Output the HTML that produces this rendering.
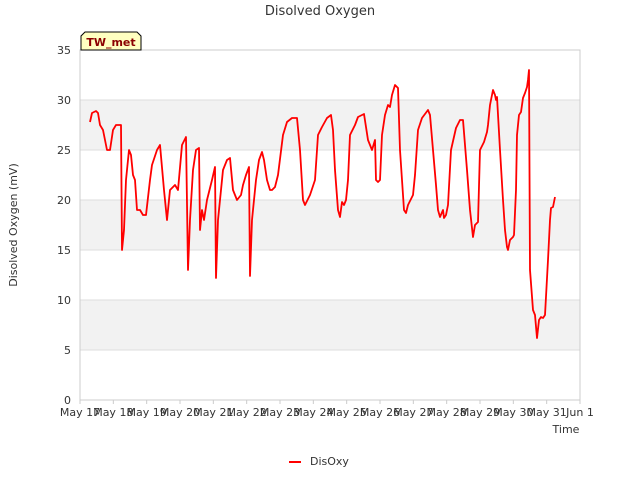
<!DOCTYPE html>
<html><head><meta charset="utf-8"><style>
body{margin:0;background:#fff;font-family:"DejaVu Sans","Liberation Sans",sans-serif;}
svg text{font-family:"DejaVu Sans","Liberation Sans",sans-serif;}
</style></head><body>
<svg id="chart" width="640" height="480">
<text x="320" y="15" text-anchor="middle" font-size="13" fill="#333">Disolved Oxygen</text>
<g id="bands"></g><g id="grid"></g>
<rect x="80" y="50" width="500" height="350" fill="none" stroke="#ccc"/>
<g id="yticks"></g><g id="xticks"></g>
<path id="line" fill="none" stroke="#ff0000" stroke-width="1.8" stroke-linejoin="round"/>
<text transform="translate(17,225) rotate(-90)" text-anchor="middle" font-size="11" fill="#333">Disolved Oxygen (mV)</text>
<text x="566" y="433" text-anchor="middle" font-size="11" fill="#333">Time</text>
<g>
<path d="M81,50 L81,36 L85,32 L137,32 L141,36 L141,50 Z" fill="#ffffc0" stroke="#000"/>
<text x="111" y="46" text-anchor="middle" font-size="11" font-weight="bold" fill="#8b0000">TW_met</text></g>
<g>
<line x1="289" y1="462" x2="301" y2="462" stroke="#ff0000" stroke-width="2"/>
<text x="310" y="465" font-size="11" fill="#333">DisOxy</text></g>
</svg>
<script>
const yTicks=[0,5,10,15,20,25,30,35];
const xTickDays=[17,18,19,20,21,22,23,24,25,26,27,28,29,30,31,32];
const xTickLabels=["May 17","May 18","May 19","May 20","May 21","May 22","May 23","May 24","May 25","May 26","May 27","May 28","May 29","May 30","May 31","Jun 1"];
const times=[17.30,17.36,17.48,17.54,17.60,17.69,17.75,17.81,17.90,17.99,18.08,18.23,18.26,18.32,18.38,18.47,18.53,18.59,18.65,18.71,18.80,18.89,18.98,19.10,19.16,19.31,19.40,19.52,19.61,19.70,19.85,19.94,20.06,20.18,20.24,20.30,20.39,20.48,20.57,20.60,20.66,20.72,20.81,20.96,21.05,21.08,21.14,21.23,21.29,21.41,21.50,21.59,21.71,21.83,21.89,21.98,22.07,22.10,22.16,22.28,22.37,22.46,22.52,22.61,22.70,22.76,22.85,22.94,23.09,23.21,23.36,23.51,23.60,23.69,23.75,23.90,24.05,24.14,24.26,24.41,24.53,24.59,24.65,24.74,24.80,24.86,24.92,24.98,25.04,25.10,25.25,25.34,25.52,25.64,25.70,25.76,25.85,25.88,25.94,26.00,26.06,26.15,26.24,26.30,26.36,26.45,26.54,26.60,26.72,26.78,26.84,26.99,27.05,27.14,27.26,27.44,27.50,27.59,27.68,27.74,27.80,27.89,27.92,27.98,28.04,28.13,28.28,28.40,28.49,28.61,28.70,28.79,28.85,28.94,29.00,29.12,29.21,29.24,29.30,29.39,29.45,29.48,29.51,29.60,29.69,29.75,29.81,29.84,29.90,29.99,30.02,30.08,30.11,30.17,30.23,30.29,30.35,30.41,30.44,30.47,30.50,30.59,30.65,30.71,30.77,30.83,30.89,30.95,31.04,31.10,31.13,31.19,31.25];
const values=[27.8,28.7,28.9,28.7,27.5,27,26,25,25,27,27.5,27.5,15,17,22,25,24.5,22.5,22,19,19,18.5,18.5,22,23.5,25,25.5,21,18,21,21.5,21,25.5,26.3,13,18,23,25,25.2,17,19,18,20,22,23.3,12.2,18,21,23,24,24.2,21,20,20.5,21.5,22.5,23.3,12.4,18,22,24,24.8,24,22,21,21,21.3,22.5,26.5,27.8,28.2,28.2,25,20,19.5,20.5,22,26.5,27.3,28.2,28.5,27,23,19,18.3,19.8,19.5,20,22,26.5,27.5,28.3,28.6,26,25.5,25,26,22,21.8,22,26.5,28.5,29.5,29.3,30.5,31.5,31.2,25,19,18.7,19.5,20.5,22.5,27,28.2,29,28.5,25,21.5,19,18.3,19,18.2,18.5,19.5,25,27.2,28,28,23,19,16.3,17.5,17.8,25,25.8,26.8,27.5,29.5,31,30.5,30,30.3,25,20,17,15.3,15,16,16.3,16.5,21,26.5,28.5,28.8,30.2,30.7,31.3,32,33,13,9,8.5,6.2,8,8.3,8.2,8.5,14,18,19.2,19.3,20.3];
const NS='http://www.w3.org/2000/svg';
const X=d=>80+(d-17)*500/15, Y=v=>400-v*10;
function mk(tag,attrs,parent,text){const e=document.createElementNS(NS,tag);for(const k in attrs)e.setAttribute(k,attrs[k]);if(text!==undefined)e.textContent=text;parent.appendChild(e);return e;}
const bands=document.getElementById('bands'),grid=document.getElementById('grid'),yt=document.getElementById('yticks'),xt=document.getElementById('xticks');
for(let i=0;i<yTicks.length-1;i++){if(i%2===1){const b=mk('rect',{x:80,y:Y(yTicks[i+1]),width:500,height:Y(yTicks[i])-Y(yTicks[i+1]),fill:'#f2f2f2'},bands);

}}
yTicks.forEach(v=>{const g=mk('line',{x1:80,x2:580,y1:Y(v),y2:Y(v),stroke:'#ddd'},grid);


const t=mk('text',{x:71,y:Y(v)+4,'text-anchor':'end','font-size':'11',fill:'#333'},yt,String(v));

});
xTickDays.forEach((d,i)=>{mk('line',{x1:X(d),x2:X(d),y1:400,y2:404,stroke:'#ccc'},xt);
const t=mk('text',{x:X(d),y:416,'text-anchor':'middle','font-size':'11',fill:'#333'},xt,xTickLabels[i]);

});
document.getElementById('line').setAttribute('d',times.map((t,i)=>(i?'L':'M')+X(t).toFixed(1)+','+Y(values[i]).toFixed(1)).join(''));
</script>
</body></html>
